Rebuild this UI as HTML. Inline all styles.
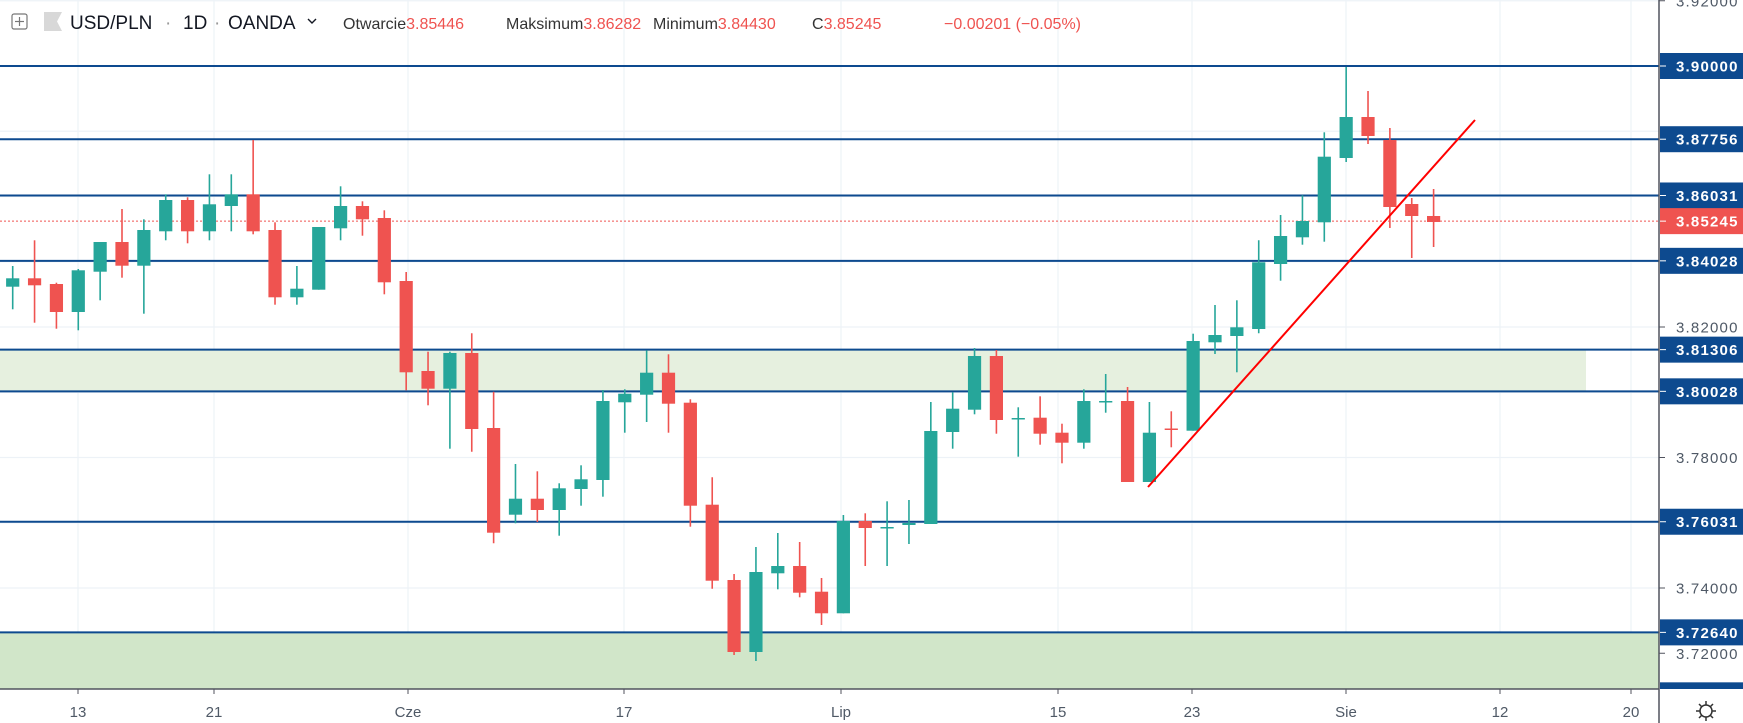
<!DOCTYPE html>
<html><head><meta charset="utf-8"><style>
html,body{margin:0;padding:0;background:#fff;}
body{width:1743px;height:723px;overflow:hidden;font-family:"Liberation Sans",sans-serif;}
svg{display:block}
</style></head><body>
<svg id="c" width="1743" height="723" xmlns="http://www.w3.org/2000/svg">
<defs><clipPath id="cp"><rect x="0" y="0" width="1743" height="689"/></clipPath></defs>
<rect x="0" y="0" width="1743" height="723" fill="#fff"/>
<g id="grid" stroke="#edf2f7" stroke-width="1.2"></g>
<rect x="0" y="349.6" width="1586" height="41.7" fill="#e6f0df"/>
<rect x="0" y="632.4" width="1659" height="56.6" fill="#d1e6c9"/>
<g id="hl" clip-path="url(#cp)"></g>
<line x1="0" y1="221.1" x2="1659" y2="221.1" stroke="#ef5350" stroke-width="1" stroke-dasharray="2,2"/>
<g id="candles"></g>
<line x1="1148" y1="487" x2="1475" y2="120" stroke="#ff0000" stroke-width="2"/>
<rect x="1660" y="0" width="83" height="723" fill="#fff"/>
<g id="axis" clip-path="url(#cp)" font-family="Liberation Sans, sans-serif" font-size="15" letter-spacing="1.2"></g>
<line x1="1659" y1="0" x2="1659" y2="723" stroke="#50535e" stroke-width="1.5"/>
<line x1="0" y1="689" x2="1659" y2="689" stroke="#50535e" stroke-width="1.5"/>
<g id="dates" font-family="Liberation Sans, sans-serif" font-size="15" fill="#4f5966" text-anchor="middle"></g>
<g transform="translate(1706,711)" stroke="#333" stroke-width="1.5" fill="none">
<circle r="6"/><line x1="0" y1="-10" x2="0" y2="-6"/><line x1="0" y1="6" x2="0" y2="10"/><line x1="-10" y1="0" x2="-6" y2="0"/><line x1="6" y1="0" x2="10" y2="0"/>
<line x1="-7" y1="-7" x2="-4.5" y2="-4.5"/><line x1="7" y1="7" x2="4.5" y2="4.5"/><line x1="-7" y1="7" x2="-4.5" y2="4.5"/><line x1="7" y1="-7" x2="4.5" y2="-4.5"/>
</g>
<g font-family="Liberation Sans, sans-serif">
<rect x="12" y="14" width="15" height="15" fill="none" stroke="#777" stroke-width="1.2" rx="2"/>
<line x1="19.5" y1="17" x2="19.5" y2="26" stroke="#777" stroke-width="1.2"/><line x1="15" y1="21.5" x2="24" y2="21.5" stroke="#777" stroke-width="1.2"/>
<polygon points="44,12 62,12 57,21.5 62,31 44,31" fill="#d8d8d8"/>
<text x="70" y="29" font-size="19" fill="#131722">USD/PLN</text>
<text x="165" y="29" font-size="19" fill="#999">·</text>
<text x="183" y="29" font-size="19" fill="#131722">1D</text>
<text x="214" y="29" font-size="19" fill="#999">·</text>
<text x="228" y="29" font-size="19" fill="#131722">OANDA</text>
<polyline points="308,19 312,23 316,19" fill="none" stroke="#131722" stroke-width="1.4"/>
<text x="343" y="29" font-size="16" fill="#333">Otwarcie<tspan fill="#ef5350">3.85446</tspan></text>
<text x="506" y="29" font-size="16" fill="#333">Maksimum<tspan fill="#ef5350">3.86282</tspan></text>
<text x="653" y="29" font-size="16" fill="#333">Minimum<tspan fill="#ef5350">3.84430</tspan></text>
<text x="812" y="29" font-size="16" fill="#333">C<tspan fill="#ef5350">3.85245</tspan></text>
<text x="944" y="29" font-size="16" fill="#ef5350">−0.00201 (−0.05%)</text>
</g>
</svg>
<script>
const NS="http://www.w3.org/2000/svg";
function el(p,t,a,txt){const e=document.createElementNS(NS,t);for(const k in a)e.setAttribute(k,a[k]);if(txt!==undefined)e.textContent=txt;p.appendChild(e);return e;}
const Y=p=>66+(3.9-p)*3262.5;
const grid=document.getElementById('grid');
for(let p=3.92;p>3.69;p-=0.02){const y=Y(p);if(y<689)el(grid,'line',{x1:0,y1:y,x2:1659,y2:y});}
const dates=[[78,'13'],[214,'21'],[408,'Cze'],[624,'17'],[841,'Lip'],[1058,'15'],[1192,'23'],[1346,'Sie'],[1500,'12'],[1631,'20']];
const dg=document.getElementById('dates');
dates.forEach(d=>{el(grid,'line',{x1:d[0],y1:0,x2:d[0],y2:689});el(dg,'line',{x1:d[0],y1:689,x2:d[0],y2:694,stroke:'#50535e'});el(dg,'text',{x:d[0],y:717},d[1]);});
const hl=document.getElementById('hl');
const lv=[3.90000,3.87756,3.86031,3.84028,3.81306,3.80028,3.76031,3.72640,3.70710];
lv.forEach(p=>{const y=Y(p);el(hl,'line',{x1:0,y1:y,x2:1659,y2:y,stroke:'#0d4a8f','stroke-width':2});});
const C=[
['g',278.3,286.7,266,309.3],['r',278.3,285.3,240.3,322.7],['r',284,312,282.7,328.7],['g',270.3,312,269,330.3],
['g',242,271.7,242,300.3],['r',242,265.7,209,277.7],['g',230,265.7,219.3,313.7],['g',200,231.3,194.3,240.3],
['r',200,231.3,197.3,243.3],['g',204.3,231.3,174.3,240.3],['g',194.3,206,174.3,231.3],['r',194.3,231.3,140,234.3],
['r',230,297.3,222.3,304.7],['g',288.7,297.3,266,304.7],['g',227,289.7,227,289.7],['g',206,228.3,186.3,240.3],
['r',206,219.3,201.3,235.7],['r',218,282.3,210.3,294.3],['r',281,372.3,272,390.3],['r',371,388.7,351.7,405.3],
['g',353,388.7,351.7,448.7],['r',353,429,333.3,451.7],['r',428,532.7,391.7,543.3],['g',498.7,514.7,464,523.3],
['r',498.7,510,471.3,522],['g',488.3,510,483.3,535.7],['g',479.3,489,465.3,505.7],['g',401,480,390,496.7],
['g',393.7,402.3,389.3,432.7],['g',372.7,394.7,350.3,422],['r',372.7,403.7,354.3,432.7],['r',402.7,505.7,399.3,526.7],
['r',504.7,580.7,477.3,588.7],['r',580,652,574,655],['g',572,652,547,661],['g',566,573.3,533,589.3],
['r',566,592.7,542,597.3],['r',591.7,613.3,578,625],['g',521,613.3,515,613.3],['r',521,528,513.3,566],
['g',527,528.5,501.3,566],['g',523,525,500,544],['g',431,524,402,524],['g',408.7,432,392.3,448.7],
['g',356,409.7,348,414.3],['r',356,420,350,433.7],['g',418,419.5,407.3,456.7],['r',417.7,433.7,396.3,444.7],
['r',432.7,442.7,423.7,463.3],['g',401,442.7,389.3,448.7],['g',401,402.5,374,412.7],['r',401,482,387,482],
['g',432.7,482,402,482],['r',428.5,430,411.3,447.3],['g',341,430.7,333.7,430.7],['g',335,342.3,305,354],
['g',327.3,336,300.3,372.3],['g',262.3,329,240.3,333.3],['g',236,264,215,280.7],['g',221,237.3,195.3,244.7],
['g',156.7,222.3,132.3,241.7],['g',117,158,67,162],['r',117,136,91,144],['r',140,207,128,228],
['r',204,216,198,258],['r',216,222,189,247]];
const cg=document.getElementById('candles');
C.forEach((c,i)=>{const x=12.7+i*21.86;const col=c[0]=='g'?'#26a69a':'#ef5350';
el(cg,'line',{x1:x,y1:c[3],x2:x,y2:c[4],stroke:col,'stroke-width':1.6});
let h=Math.max(c[2]-c[1],1.5);el(cg,'rect',{x:x-6.6,y:c[1],width:13.2,height:h,fill:col});});
const ax=document.getElementById('axis');
[3.92,3.82,3.78,3.74,3.72].forEach(a=>{const y=Y(a);el(ax,'line',{x1:1659,y1:y,x2:1665,y2:y,stroke:'#50535e'});el(ax,'text',{x:1676,y:y+5.5,fill:'#4f5966'},a.toFixed(5));});
lv.forEach(p=>{const y=Y(p);el(ax,'rect',{x:1660,y:y-13,width:83,height:26,fill:'#0d4a8f'});el(ax,'line',{x1:1660,y1:y,x2:1666,y2:y,stroke:'#fff'});el(ax,'text',{x:1676,y:y+5.5,fill:'#fff','font-weight':'bold'},p.toFixed(5));});
{const y=Y(3.85245);el(ax,'rect',{x:1660,y:y-13,width:83,height:26,fill:'#ef5350'});el(ax,'line',{x1:1660,y1:y,x2:1666,y2:y,stroke:'#fff'});el(ax,'text',{x:1676,y:y+5.5,fill:'#fff','font-weight':'bold'},'3.85245');}
</script>
</body></html>
